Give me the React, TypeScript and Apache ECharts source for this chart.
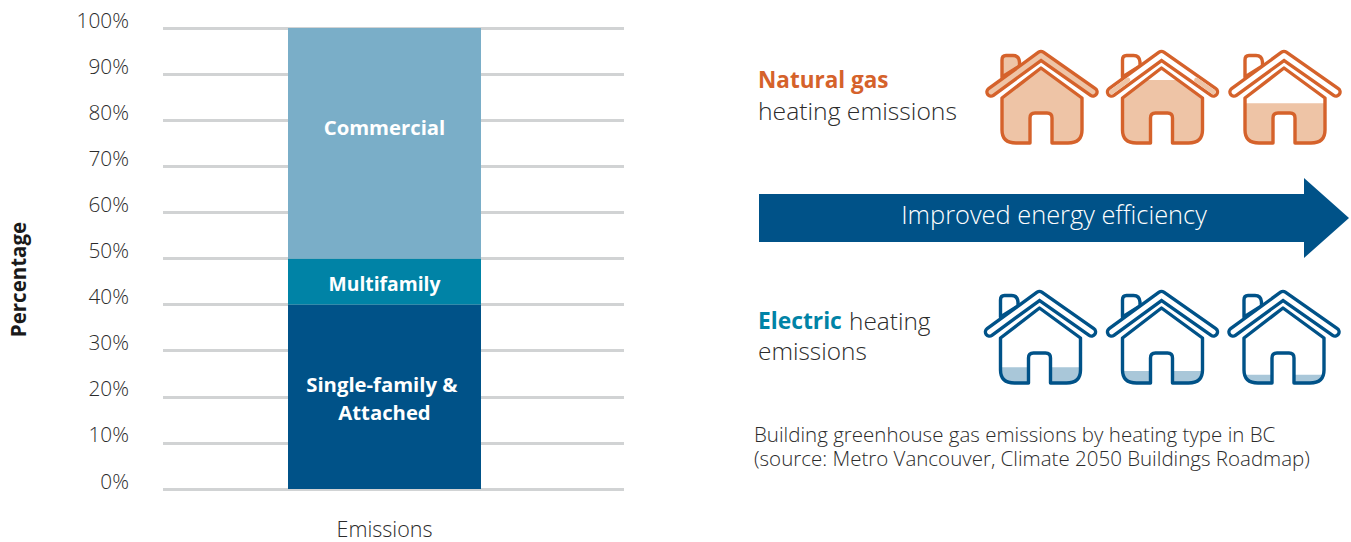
import React, { useEffect, useRef } from "react";
import * as echarts from "echarts";

const categories = ["Emissions"];
const yTicks = [0, 10, 20, 30, 40, 50, 60, 70, 80, 90, 100];
const singleFamily = [40];
const multifamily = [10];
const commercial = [50];

const naturalGasFill = [1, 0.84, 0.53];
const electricFill = [0.21, 0.16, 0.11];

const FONT = "'Open Sans', 'Noto Sans', sans-serif";
const ORANGE = "#d5622b";
const PEACH = "#eec4a6";
const NAVY = "#005288";
const LIGHTBLUE = "#a9c7d9";
const TEAL = "#0083a6";
const INK = "#2b2b2b";

const BODY =
  "M22,58 L61,28 L102,58 L102,90 Q102,103 88,103 L72,103 L72,78 Q72,73 67,73 L55,73 Q50,73 50,78 L50,103 L36,103 Q22,103 22,90 Z";
const CHIMNEY =
  "M22,37 L22,20 Q22,15.5 26,15.5 L33,15.5 Q39,15.5 39.5,22 L39.5,26 Z";

function levelY(fraction: number) {
  return 103 - fraction * 75;
}

function fillPath(fraction: number) {
  const y = levelY(fraction);
  if (y >= 73) {
    const k = y > 90 ? Math.sqrt((103 - y) / 13) : 1;
    const t = 1 - k;
    const xl = 22 + 14 * t * t;
    const xr = 124 - (22 + 14 * t * t);
    const cl = 22 + 14 * t;
    const cr = 124 - cl;
    const left =
      y > 90
        ? `M${xl},${y} L50,${y} L50,103 L36,103 Q${cl},103 ${xl},${y} Z`
        : `M22,${y} L50,${y} L50,103 L36,103 Q22,103 22,90 Z`;
    const right =
      y > 90
        ? `M72,${y} L${xr},${y} Q${cr},103 88,103 L72,103 Z`
        : `M72,${y} L102,${y} L102,90 Q102,103 88,103 L72,103 Z`;
    return left + " " + right;
  }
  const lower =
    "L102,90 Q102,103 88,103 L72,103 L72,78 Q72,73 67,73 L55,73 Q50,73 50,78 L50,103 L36,103 Q22,103 22,90";
  if (y >= 58) return `M22,${y} L102,${y} ${lower} Z`;
  if (y <= 28) return BODY;
  const xl = 22 + ((58 - y) * 39) / 30;
  const xr = 102 - ((58 - y) * 41) / 30;
  return `M${xl},${y} L${xr},${y} L102,58 ${lower} L22,58 Z`;
}

echarts.graphic.registerShape("houseBody", echarts.graphic.extendPath(BODY, {}));
echarts.graphic.registerShape("houseChimney", echarts.graphic.extendPath(CHIMNEY, {}));
[...naturalGasFill, ...electricFill].forEach((f, i) => {
  echarts.graphic.registerShape("houseFill" + i, echarts.graphic.extendPath(fillPath(f), {}));
});

const ROOF = [
  [11, 52],
  [61, 15.5],
  [113, 52],
];

function house(x: number, y: number, fillIndex: number, fraction: number, line: string, soft: string) {
  const full = fraction >= 1;
  const ly = levelY(fraction);
  const children: any[] = [];
  children.push({
    type: "houseChimney",
    style: { fill: full ? soft : "#ffffff", stroke: line, lineWidth: 3.4, lineJoin: "round" },
  });
  children.push({
    type: "polyline",
    shape: { points: ROOF },
    style: { fill: "none", stroke: line, lineWidth: 11.5, lineCap: "round", lineJoin: "round" },
  });
  children.push({
    type: "polyline",
    shape: { points: ROOF },
    style: { fill: "none", stroke: full ? soft : "#ffffff", lineWidth: 4.7, lineCap: "round", lineJoin: "round" },
  });
  if (!full && ly < 52) {
    const xl = 11 + ((52 - ly) * 50) / 36.5;
    const xr = 113 - ((52 - ly) * 52) / 36.5;
    children.push({
      type: "polyline",
      shape: { points: [[11, 52], [xl, ly]] },
      style: { fill: "none", stroke: soft, lineWidth: 4.7, lineCap: "round" },
    });
    children.push({
      type: "polyline",
      shape: { points: [[113, 52], [xr, ly]] },
      style: { fill: "none", stroke: soft, lineWidth: 4.7, lineCap: "round" },
    });
  }
  children.push({ type: "houseBody", style: { fill: "#ffffff", stroke: "none" } });
  children.push({ type: "houseFill" + fillIndex, style: { fill: soft, stroke: "none" } });
  children.push({
    type: "houseBody",
    style: { fill: "none", stroke: line, lineWidth: 3.4, lineJoin: "round" },
  });
  return { type: "group", x, y, silent: true, children };
}

function label(x: number, y: number, text: string, fontSize: number, extra: any = {}) {
  return {
    type: "text",
    x,
    y,
    silent: true,
    style: {
      text,
      fontFamily: FONT,
      fontSize,
      fontWeight: 300,
      fill: INK,
      verticalAlign: "middle",
      ...extra,
    },
  };
}

export default function App() {
  const ref = useRef<HTMLDivElement>(null);
  useEffect(() => {
    const chart = echarts.init(ref.current!, undefined, { renderer: "svg" });
    const barLabel = (offset: number[], fontSize = 20.3) => ({
      show: true,
      position: "inside" as const,
      color: "#ffffff",
      fontFamily: FONT,
      fontWeight: 700,
      fontSize,
      lineHeight: 28,
      offset,
    });
    chart.setOption({
      animation: false,
      backgroundColor: "#ffffff",
      grid: { left: 163, right: 727, top: 28, height: 461 },
      xAxis: {
        type: "category",
        data: categories,
        axisLine: { show: false },
        axisTick: { show: false },
        axisLabel: {
          color: INK,
          fontFamily: FONT,
          fontSize: 21.5,
          fontWeight: 300,
          margin: 28,
          padding: [0, 18, 0, 0],
        },
      },
      yAxis: {
        type: "value",
        min: yTicks[0],
        max: yTicks[yTicks.length - 1],
        interval: 10,
        name: "Percentage",
        nameLocation: "middle",
        nameGap: 135,
        nameTextStyle: {
          color: "#1a1a1a",
          fontFamily: FONT,
          fontWeight: 700,
          fontSize: 20.5,
          padding: [0, 42, 0, 0],
        },
        axisLine: { show: false },
        axisTick: { show: false },
        splitLine: { show: true, lineStyle: { color: "#d1d3d4", width: 3 } },
        axisLabel: {
          color: INK,
          fontFamily: FONT,
          fontSize: 20.8,
          fontWeight: 300,
          margin: 34,
          verticalAlign: "bottom",
          lineHeight: 17,
          formatter: "{value}%",
        },
      },
      series: [
        {
          name: "Single-family & Attached",
          type: "bar",
          stack: "total",
          barWidth: 193,
          barGap: 0,
          data: singleFamily,
          itemStyle: { color: NAVY },
          label: { ...barLabel([0, 1]), formatter: "Single-family & \nAttached" },
        },
        {
          name: "Multifamily",
          type: "bar",
          stack: "total",
          barGap: 0,
          data: multifamily,
          itemStyle: { color: TEAL },
          label: { ...barLabel([0, 2], 19.3), formatter: "Multifamily" },
        },
        {
          name: "Commercial",
          type: "bar",
          stack: "total",
          barGap: 0,
          data: commercial,
          itemStyle: { color: "#7aaec8" },
          label: { ...barLabel([0, -16]), formatter: "Commercial" },
        },
        {
          name: "spacer",
          type: "bar",
          stack: "spacer",
          barWidth: 18,
          barGap: 0,
          data: [null],
          silent: true,
        },
      ],
      graphic: {
        elements: [
          ...naturalGasFill.map((f, i) =>
            house([980, 1100.5, 1223][i], 40, i, f, ORANGE, PEACH)
          ),
          ...electricFill.map((f, i) =>
            house([978.5, 1100.5, 1222][i], 280, i + naturalGasFill.length, f, NAVY, LIGHTBLUE)
          ),
          {
            type: "polygon",
            silent: true,
            shape: {
              points: [
                [759, 194],
                [1304, 194],
                [1304, 178],
                [1349, 218],
                [1304, 258],
                [1304, 242],
                [759, 242],
              ],
            },
            style: { fill: NAVY },
          },
          label(1054, 214, "Improved energy efficiency", 25.4, {
            fill: "#ffffff",
            align: "center",
          }),
          label(758, 79.5, "Natural gas", 22.5, { fill: ORANGE, fontWeight: 700 }),
          label(758, 110, "heating emissions", 24.7),
          label(758, 320, "Electric", 22.8, { fill: TEAL, fontWeight: 700 }),
          label(849, 320, "heating", 24.4),
          label(758, 350, "emissions", 24.4),
          label(
            754,
            446,
            "Building greenhouse gas emissions by heating type in BC\n(source: Metro Vancouver, Climate 2050 Buildings Roadmap)",
            20.5,
            { lineHeight: 24 }
          ),
        ],
      },
    });
    return () => chart.dispose();
  }, []);
  return (
    <div
      ref={ref}
      style={{ position: "absolute", left: 0, top: 0, width: 1351, height: 542 }}
    />
  );
}
